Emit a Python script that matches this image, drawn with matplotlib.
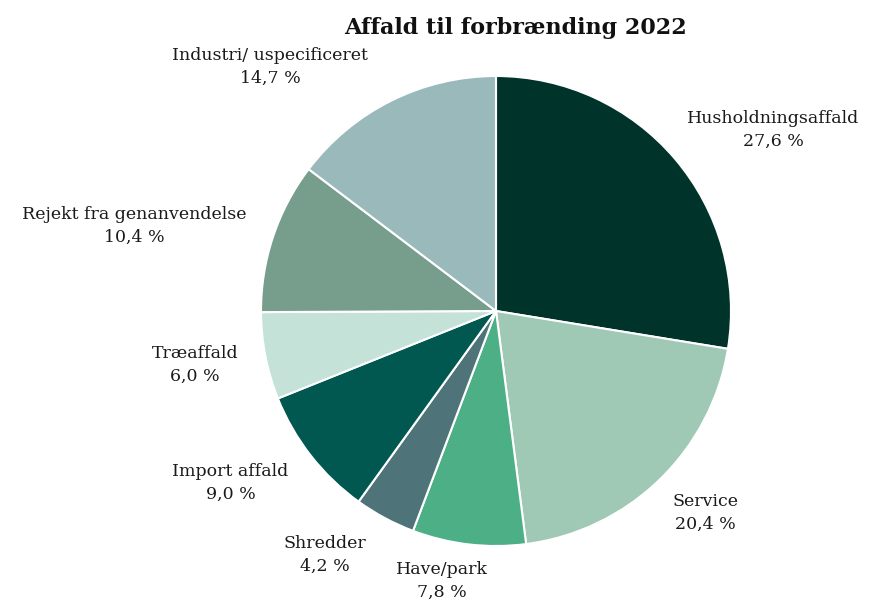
import matplotlib.pyplot as plt

# Affald til forbrænding 2022, andele i procent
categories = ["Husholdningsaffald", "Service", "Have/park", "Shredder",
              "Import affald", "Træaffald", "Rejekt fra genanvendelse",
              "Industri/ uspecificeret"]
shares = [27.6, 20.4, 7.8, 4.2, 9.0, 6.0, 10.4, 14.7]
colors = ["#00332a", "#9fc9b5", "#4daf85", "#4e7479",
          "#005850", "#c5e2d8", "#779d8d", "#9ab9bb"]

# label centres in units of the pie radius
label_pos = [(1.18, 0.77), (0.89, -0.86), (-0.23, -1.15), (-0.73, -1.04),
             (-1.13, -0.73), (-1.28, -0.23), (-1.54, 0.36), (-0.96, 1.04)]

W, H = 888, 603
cx, cy, R = 496, 311, 235

fig = plt.figure(figsize=(W / 100, H / 100), dpi=100)
ax = fig.add_axes([0, 0, 1, 1])

ax.pie(shares, colors=colors, startangle=90, counterclock=False, radius=1,
       wedgeprops={"edgecolor": "white", "linewidth": 1.5})

for name, val, (lx, ly) in zip(categories, shares, label_pos):
    txt = f"{name}\n{val:.1f} %".replace(".", ",")
    ax.text(lx, ly, txt, ha="center", va="center", fontsize=12.5,
            family="DejaVu Serif", color="#1a1a1a", linespacing=1.45)

ax.set_xlim(-cx / R, (W - cx) / R)
ax.set_ylim(-(H - cy) / R, cy / R)
ax.set_aspect("equal")
ax.axis("off")

fig.text(515 / W, 1 - 28 / H, "Affald til forbrænding 2022", ha="center",
         va="center", fontsize=16, fontweight="bold", family="DejaVu Serif",
         color="#111111")

fig.savefig("out.png", dpi=100, facecolor="white")
